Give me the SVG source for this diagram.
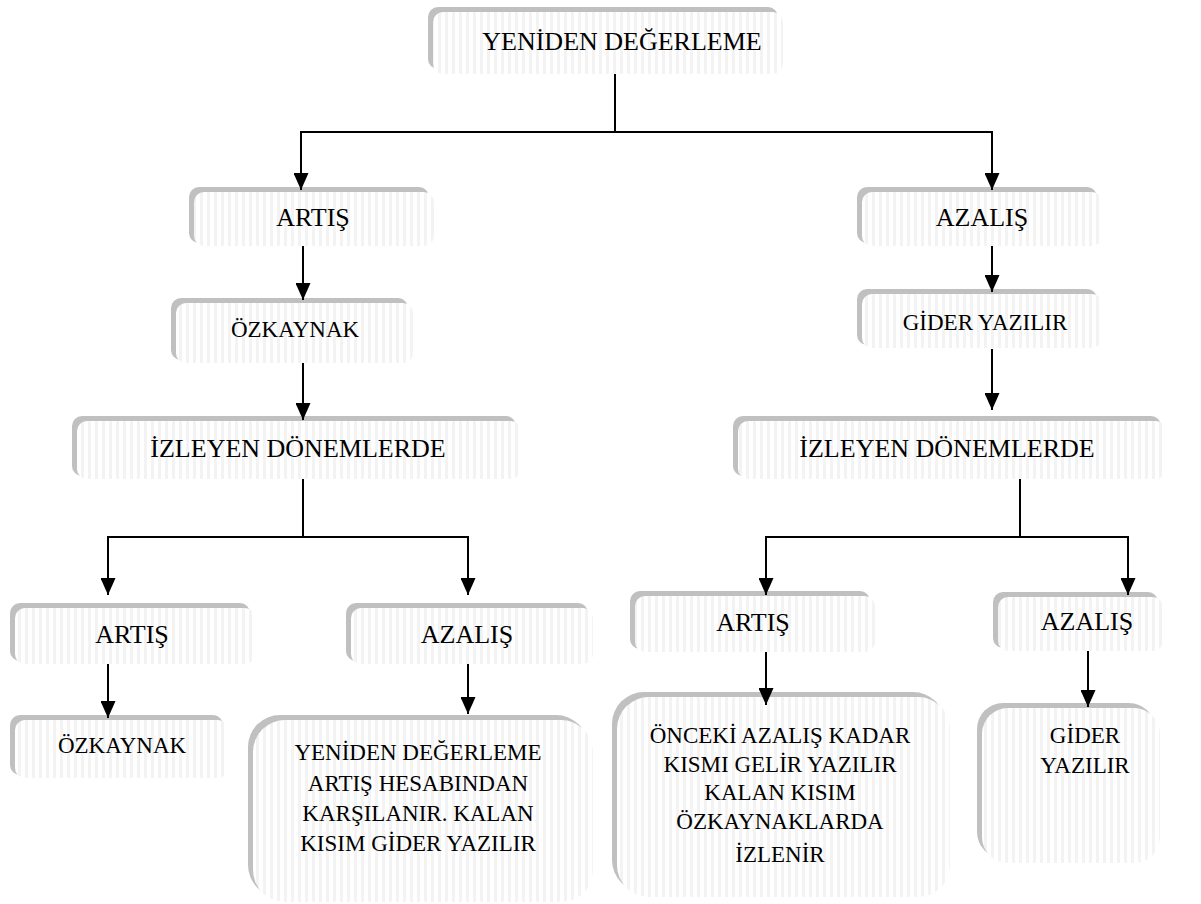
<svg xmlns="http://www.w3.org/2000/svg" width="1201" height="904" viewBox="0 0 1201 904">
<style>
.sh{fill:#c0c0c0}
.bx{fill:url(#stripes)}
.t{font-family:"Liberation Serif","Times New Roman",serif;fill:#000;text-anchor:middle}
.c{fill:none;stroke:#000;stroke-width:2}
</style>
<defs>
<pattern id="stripes" width="7" height="904" patternUnits="userSpaceOnUse">
<rect width="7" height="904" fill="#ffffff"/>
<rect x="4" width="3" height="904" fill="#f3f3f3"/>
</pattern>
<marker id="ah" viewBox="0 0 17 15" refX="17" refY="7.5" markerWidth="17" markerHeight="15" markerUnits="userSpaceOnUse" orient="auto">
<path d="M0,0 L17,7.5 L0,15 z" fill="#000"/>
</marker>
</defs>
<rect width="1201" height="904" fill="#fff"/>

<g id="n-root"><rect class="sh" x="428" y="7" width="350" height="62" rx="10"/><rect class="bx" x="433" y="12" width="350" height="62" rx="10"/><text class="t" x="622" y="50" font-size="26">YENİDEN DEĞERLEME</text></g>

<g id="n-artis1"><rect class="sh" x="189" y="187" width="240" height="56" rx="10"/><rect class="bx" x="194" y="192" width="240" height="54" rx="10"/><text class="t" x="313" y="226" font-size="26">ARTIŞ</text></g>

<g id="n-azalis1"><rect class="sh" x="857" y="187" width="240" height="56" rx="10"/><rect class="bx" x="862" y="192" width="240" height="54" rx="10"/><text class="t" x="982" y="226" font-size="26">AZALIŞ</text></g>

<g id="n-ozkaynak1"><rect class="sh" x="171" y="298" width="237" height="62" rx="10"/><rect class="bx" x="176" y="303" width="237" height="60" rx="10"/><text class="t" x="295" y="337" font-size="23">ÖZKAYNAK</text></g>

<g id="n-gider1"><rect class="sh" x="857" y="289" width="240" height="56" rx="10"/><rect class="bx" x="862" y="294" width="240" height="54" rx="10"/><text class="t" x="985" y="330" font-size="23">GİDER YAZILIR</text></g>

<g id="n-izleyen1"><rect class="sh" x="72" y="416" width="444" height="60" rx="10"/><rect class="bx" x="77" y="421" width="444" height="58" rx="10"/><text class="t" x="298" y="457" font-size="26">İZLEYEN DÖNEMLERDE</text></g>

<g id="n-izleyen2"><rect class="sh" x="733" y="416" width="428" height="60" rx="10"/><rect class="bx" x="738" y="421" width="428" height="58" rx="10"/><text class="t" x="947" y="457" font-size="26">İZLEYEN DÖNEMLERDE</text></g>

<g id="n-artis2"><rect class="sh" x="10" y="603" width="240" height="58" rx="10"/><rect class="bx" x="15" y="608" width="240" height="56" rx="10"/><text class="t" x="132" y="643" font-size="26">ARTIŞ</text></g>

<g id="n-azalis2"><rect class="sh" x="346" y="603" width="242" height="58" rx="10"/><rect class="bx" x="351" y="608" width="242" height="56" rx="10"/><text class="t" x="467" y="643" font-size="26">AZALIŞ</text></g>

<g id="n-artis3"><rect class="sh" x="630" y="591" width="240" height="58" rx="10"/><rect class="bx" x="635" y="596" width="240" height="56" rx="10"/><text class="t" x="753" y="631" font-size="26">ARTIŞ</text></g>

<g id="n-azalis3"><rect class="sh" x="993" y="592" width="165" height="56" rx="10"/><rect class="bx" x="998" y="597" width="165" height="54" rx="10"/><text class="t" x="1087" y="630" font-size="26">AZALIŞ</text></g>

<g id="n-ozkaynak2"><rect class="sh" x="10" y="715" width="213" height="60" rx="10"/><rect class="bx" x="15" y="720" width="213" height="58" rx="10"/><text class="t" x="122" y="753" font-size="23">ÖZKAYNAK</text></g>

<g id="n-yeniden2"><rect class="sh" x="248" y="715" width="340" height="182" rx="32"/><rect class="bx" x="253" y="720" width="340" height="182" rx="32"/><text class="t" font-size="23"><tspan x="418" y="760">YENİDEN DEĞERLEME</tspan><tspan x="418" y="791">ARTIŞ HESABINDAN</tspan><tspan x="418" y="821">KARŞILANIR. KALAN</tspan><tspan x="418" y="851">KISIM GİDER YAZILIR</tspan></text></g>

<g id="n-onceki"><rect class="sh" x="612" y="692" width="333" height="200" rx="32"/><rect class="bx" x="617" y="697" width="333" height="200" rx="32"/><text class="t" font-size="23"><tspan x="780" y="743">ÖNCEKİ AZALIŞ KADAR</tspan><tspan x="780" y="772">KISMI GELİR YAZILIR</tspan><tspan x="780" y="800">KALAN KISIM</tspan><tspan x="780" y="829">ÖZKAYNAKLARDA</tspan><tspan x="780" y="862">İZLENİR</tspan></text></g>

<g id="n-gider2"><rect class="sh" x="977" y="703" width="178" height="155" rx="26"/><rect class="bx" x="982" y="708" width="178" height="155" rx="26"/><text class="t" font-size="23"><tspan x="1085" y="743">GİDER</tspan><tspan x="1085" y="773">YAZILIR</tspan></text></g>

<g id="connectors">
<path class="c" d="M615,74 V132"/>
<path class="c" d="M615,132 H301 V190" marker-end="url(#ah)"/>
<path class="c" d="M615,132 H992 V190" marker-end="url(#ah)"/>
<path class="c" d="M303,246 V300" marker-end="url(#ah)"/>
<path class="c" d="M303,363 V420" marker-end="url(#ah)"/>
<path class="c" d="M303,479 V537"/>
<path class="c" d="M303,537 H108 V595" marker-end="url(#ah)"/>
<path class="c" d="M303,537 H468 V595" marker-end="url(#ah)"/>
<path class="c" d="M108,664 V718" marker-end="url(#ah)"/>
<path class="c" d="M468,664 V714" marker-end="url(#ah)"/>
<path class="c" d="M992,246 V292" marker-end="url(#ah)"/>
<path class="c" d="M992,349 V410" marker-end="url(#ah)"/>
<path class="c" d="M1020,479 V537"/>
<path class="c" d="M1020,537 H766 V595" marker-end="url(#ah)"/>
<path class="c" d="M1020,537 H1128 V595" marker-end="url(#ah)"/>
<path class="c" d="M766,652 V705" marker-end="url(#ah)"/>
<path class="c" d="M1088,651 V707" marker-end="url(#ah)"/>
</g>
</svg>
